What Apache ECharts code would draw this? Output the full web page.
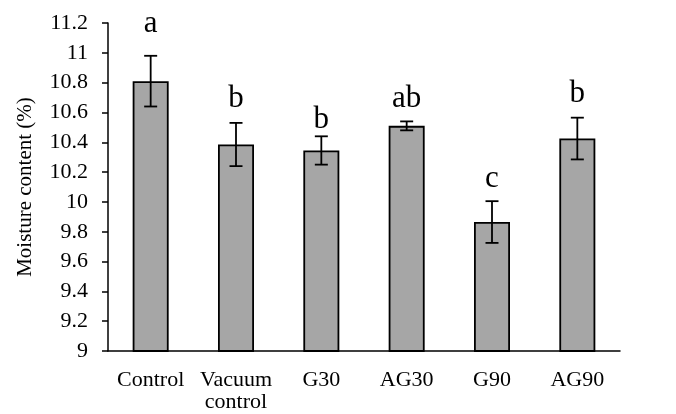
<!DOCTYPE html>
<html><head><meta charset="utf-8">
<script src="https://cdn.jsdelivr.net/npm/echarts@6/dist/echarts.min.js"></script>
<style>html,body{margin:0;padding:0;background:#fff}#c{width:676px;height:414px}</style>
</head><body><div id="c"></div>
<script>
const categories = ['Control', 'Vacuum\ncontrol', 'G30', 'AG30', 'G90', 'AG90'];
const means = [10.81, 10.385, 10.345, 10.51, 9.865, 10.425];
const errors = [0.17, 0.145, 0.095, 0.03, 0.14, 0.14];
const letters = ['a', 'b', 'b', 'ab', 'c', 'b'];
const letterAt = [11.14, 10.636, 10.496, 10.636, 10.10, 10.67];
const yTicks = {min: 9, max: 11.2, step: 0.2};

const FONT = '"Liberation Serif", "Times New Roman", serif';
const chart = echarts.init(document.getElementById('c'), null, {renderer: 'canvas'});
const errData = means.map((m, i) => [i, m - errors[i], m + errors[i]]);
const letterData = letters.map((l, i) => [i, letterAt[i], l]);

chart.setOption({
  animation: false,
  grid: {left: 108, right: 56, top: 23, bottom: 63, containLabel: false, outerBoundsMode: 'none'},
  xAxis: {
    type: 'category', data: categories,
    axisLine: {lineStyle: {color: '#000', width: 1.5}},
    axisTick: {show: false},
    axisLabel: {color: '#000', fontFamily: FONT, fontSize: 22, margin: 18, lineHeight: 22, interval: 0}
  },
  yAxis: {
    type: 'value', min: yTicks.min, max: yTicks.max, interval: yTicks.step,
    name: 'Moisture content (%)', nameLocation: 'middle', nameGap: 72,
    nameTextStyle: {color: '#000', fontFamily: FONT, fontSize: 21},
    axisLine: {show: true, lineStyle: {color: '#000', width: 1.5}},
    axisTick: {show: true, length: 6, lineStyle: {color: '#000', width: 1.5}},
    splitLine: {show: false},
    axisLabel: {color: '#000', fontFamily: FONT, fontSize: 22, margin: 20,
      formatter: v => String(Math.round(v * 10) / 10)}
  },
  series: [
    {
      type: 'bar', data: means, barWidth: 36,
      itemStyle: {color: '#a6a6a6', borderColor: '#000', borderWidth: 1.8}
    },
    {
      type: 'custom', data: errData, z: 5,
      renderItem: (params, api) => {
        const x = api.coord([api.value(0), api.value(1)])[0];
        const lo = api.coord([api.value(0), api.value(1)])[1];
        const hi = api.coord([api.value(0), api.value(2)])[1];
        const hw = 6.5;
        const st = {stroke: '#000', lineWidth: 1.8};
        return {type: 'group', children: [
          {type: 'line', shape: {x1: x, y1: lo, x2: x, y2: hi}, style: st},
          {type: 'line', shape: {x1: x - hw, y1: lo, x2: x + hw, y2: lo}, style: st},
          {type: 'line', shape: {x1: x - hw, y1: hi, x2: x + hw, y2: hi}, style: st}
        ]};
      }
    },
    {
      type: 'custom', data: letterData, z: 6,
      renderItem: (params, api) => {
        const p = api.coord([api.value(0), api.value(1)]);
        return {type: 'text', x: p[0], y: p[1] + 7, style: {
          text: letterData[params.dataIndex][2], fill: '#000',
          font: '31px ' + FONT, align: 'center', verticalAlign: 'bottom'
        }};
      }
    }
  ]
});
</script></body></html>
